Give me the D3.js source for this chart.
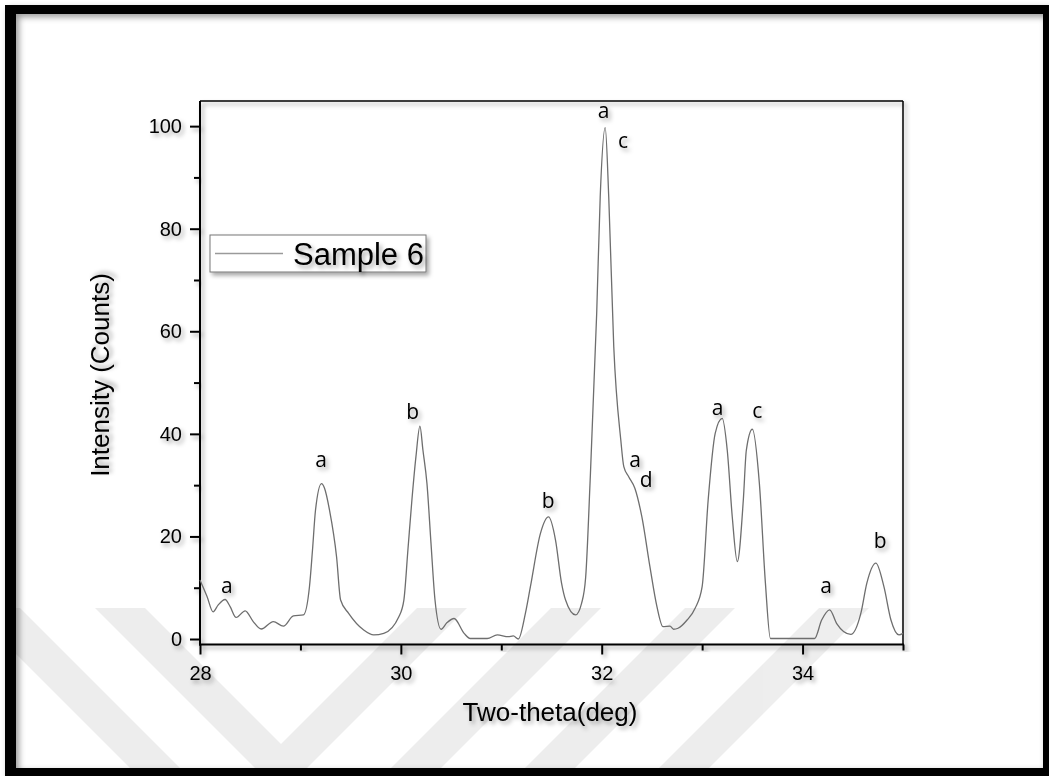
<!DOCTYPE html>
<html>
<head>
<meta charset="utf-8">
<script src="https://cdn.jsdelivr.net/npm/d3@7"></script>
<style>
  body { margin: 0; background: #fff; }
  svg { display: block; }
</style>
</head>
<body>
<div id="container"></div>
<script>
// XRD pattern, sample 6
var twoTheta = [28.00, 28.07, 28.13, 28.18, 28.25, 28.30, 28.36, 28.45, 28.53, 28.61, 28.73, 28.83, 28.93, 29.03,
  29.09, 29.12, 29.15, 29.21, 29.24, 29.29, 29.36, 29.40, 29.48, 29.63, 29.73, 29.83, 29.98,
  30.03, 30.07, 30.11, 30.15, 30.19, 30.22, 30.26, 30.30, 30.34, 30.40, 30.46, 30.53, 30.63, 30.69, 30.86,
  30.96, 31.07, 31.12, 31.17, 31.24, 31.29, 31.39, 31.47, 31.54, 31.60, 31.64, 31.74, 31.80,
  31.84, 31.885, 31.95, 31.985, 32.035, 32.07, 32.12, 32.19, 32.22, 32.27, 32.33, 32.40, 32.48,
  32.55, 32.61, 32.68, 32.715, 32.76, 32.85, 32.93, 33.00, 33.06, 33.13, 33.20, 33.25, 33.30, 33.35,
  33.41, 33.44, 33.50, 33.57, 33.63, 33.68, 34.12, 34.19, 34.27, 34.34, 34.48, 34.58, 34.64, 34.73,
  34.81, 34.88, 34.96, 35.00];
var intensity = [11.5, 8.3, 5.3, 6.6, 7.7, 6.3, 4.2, 5.5, 3.4, 1.95, 3.4, 2.5, 4.5, 4.7,
  10.2, 17.3, 25.1, 30.3, 29.4, 25.1, 16.0, 7.6, 5.0, 1.75, 0.8, 1.1, 4.35,
  7.6, 17.3, 27.1, 35.5, 41.5, 36.8, 30.3, 18.7, 7.6, 1.9, 3.2, 4.0, 1.1, 0.1, 0.1,
  0.8, 0.45, 0.6, 0.0, 5.0, 10.2, 20.6, 23.8, 19.3, 10.9, 7.6, 4.7, 7.0,
  12.0, 31.0, 63.5, 86.2, 99.7, 86.2, 57.0, 38.8, 33.6, 31.6, 29.4, 23.8, 14.1,
  6.3, 2.4, 2.5, 1.9, 2.1, 3.7, 6.0, 10.2, 27.1, 40.1, 43.0, 36.8, 23.8, 15.1,
  27.1, 36.8, 40.9, 30.3, 10.9, 0.1, 0.1, 3.7, 5.7, 3.0, 0.9, 5.0, 10.9, 14.8,
  10.2, 3.7, 0.8, 1.1];

// phase labels: letter, two-theta, counts (baseline of the letter)
var peakLetters = ["a", "c", "a", "d", "a", "c", "a", "b", "a", "a", "b", "b"];
var peakX = [32.019, 32.213, 32.333, 32.442, 33.154, 33.548, 34.235, 34.773, 28.266, 29.205, 30.117, 31.466];
var peakY = [101.6, 95.7, 33.5, 29.6, 43.7, 43.1, 9.0, 17.7, 9.0, 33.5, 42.9, 25.5];

var yMajor = [0, 20, 40, 60, 80, 100];
var yMinor = [10, 30, 50, 70, 90];
var xMajor = [28, 30, 32, 34];
var xMinor = [29, 31, 33, 35];

var seriesName = "Sample 6";

(function() {
  var W = 1049, H = 776;
  var pl = 200, pr = 903, pt = 101, pb = 644.5;

  var svg = d3.select('#container').append('svg')
    .attr('width', W).attr('height', H);

  var defs = svg.append('defs');
  defs.append('filter').attr('id', 'shadow')
    .attr('x', '-20%').attr('y', '-20%').attr('width', '140%').attr('height', '140%')
    .append('feDropShadow')
    .attr('dx', 2.5).attr('dy', 3).attr('stdDeviation', 2)
    .attr('flood-color', '#000').attr('flood-opacity', 0.35);
  defs.append('filter').attr('id', 'bshadow')
    .attr('x', '-5%').attr('y', '-5%').attr('width', '110%').attr('height', '110%')
    .append('feDropShadow')
    .attr('dx', 3).attr('dy', 3).attr('stdDeviation', 3)
    .attr('flood-color', '#000').attr('flood-opacity', 0.4);

  var x = d3.scaleLinear().domain([28, 35]).range([pl, pr]);
  var y = d3.scaleLinear().domain([-1.07, 104.9]).range([pb, pt]);

  // faint watermark stripes at the bottom
  var wmTop = 608, wmBottom = 768, wmW = 50;
  var backStripes = [-30, 95];
  var fwdStripes = [417, 551, 685, 819];
  defs.append('clipPath').attr('id', 'inner')
    .append('rect').attr('x', 16).attr('y', 14).attr('width', 1027).attr('height', 754);
  var wm = svg.append('g').attr('clip-path', 'url(#inner)').attr('opacity', 0.065);
  var h = wmBottom - wmTop;
  wm.selectAll('polygon.back').data(backStripes).enter().append('polygon')
    .attr('points', function(d) {
      return [[d, wmTop], [d + wmW, wmTop], [d + wmW + h, wmBottom], [d + h, wmBottom]].join(' ');
    })
    .attr('fill', '#000');
  wm.selectAll('polygon.fwd').data(fwdStripes).enter().append('polygon')
    .attr('points', function(d) {
      return [[d, wmTop], [d + wmW, wmTop], [d + wmW - h, wmBottom], [d - h, wmBottom]].join(' ');
    })
    .attr('fill', '#000');

  // outer black frame
  var border = svg.append('g').attr('filter', 'url(#bshadow)');
  border.append('rect').attr('x', 5).attr('y', 5).attr('width', 1044).attr('height', 9).attr('fill', '#000');
  border.append('rect').attr('x', 5).attr('y', 5).attr('width', 11).attr('height', 771).attr('fill', '#000');
  border.append('rect').attr('x', 1043).attr('y', 5).attr('width', 6).attr('height', 771).attr('fill', '#000');
  border.append('rect').attr('x', 5).attr('y', 768).attr('width', 1044).attr('height', 8).attr('fill', '#000');

  // plot frame
  var frame = svg.append('g').attr('filter', 'url(#shadow)');
  frame.append('line').attr('x1', pl).attr('x2', pr).attr('y1', pt).attr('y2', pt)
    .attr('stroke', '#000').attr('stroke-width', 1.5);
  frame.append('line').attr('x1', pr).attr('x2', pr).attr('y1', pt).attr('y2', pb)
    .attr('stroke', '#000').attr('stroke-width', 1.5);
  frame.append('line').attr('x1', pl).attr('x2', pl).attr('y1', pt).attr('y2', pb + 1)
    .attr('stroke', '#000').attr('stroke-width', 2);
  frame.append('line').attr('x1', pl - 1).attr('x2', pr + 1).attr('y1', pb).attr('y2', pb)
    .attr('stroke', '#000').attr('stroke-width', 2);

  function styleAxis(g) {
    g.attr('font-family', 'Liberation Sans, Arial, sans-serif').attr('font-size', 20);
    g.select('.domain').remove();
    g.selectAll('.tick line').attr('stroke', '#000').attr('stroke-width', 2);
    g.selectAll('.tick text').attr('fill', '#000');
  }

  var yAx = svg.append('g').attr('transform', 'translate(' + pl + ',0)').attr('filter', 'url(#shadow)')
    .call(d3.axisLeft(y).tickValues(yMajor).tickSize(10).tickPadding(8).tickFormat(d3.format('d')));
  styleAxis(yAx);
  var yMin = svg.append('g').attr('transform', 'translate(' + pl + ',0)').attr('filter', 'url(#shadow)')
    .call(d3.axisLeft(y).tickValues(yMinor).tickSize(6).tickFormat(''));
  styleAxis(yMin);

  var xAx = svg.append('g').attr('transform', 'translate(0,' + pb + ')').attr('filter', 'url(#shadow)')
    .call(d3.axisBottom(x).tickValues(xMajor).tickSize(10).tickPadding(11).tickFormat(d3.format('d')));
  styleAxis(xAx);
  var xMin = svg.append('g').attr('transform', 'translate(0,' + pb + ')').attr('filter', 'url(#shadow)')
    .call(d3.axisBottom(x).tickValues(xMinor).tickSize(6).tickFormat(''));
  styleAxis(xMin);

  // axis titles
  svg.append('text')
    .attr('x', 550).attr('y', 721)
    .attr('text-anchor', 'middle')
    .attr('font-family', 'Liberation Sans, Arial, sans-serif').attr('font-size', 26)
    .attr('filter', 'url(#shadow)')
    .text('Two-theta(deg)');
  svg.append('text')
    .attr('transform', 'translate(109,375) rotate(-90)')
    .attr('text-anchor', 'middle')
    .attr('font-family', 'Liberation Sans, Arial, sans-serif').attr('font-size', 26)
    .attr('filter', 'url(#shadow)')
    .text('Intensity (Counts)');

  // data curve
  var pts = twoTheta.map(function(d, i) { return [d, intensity[i]]; });
  var line = d3.line()
    .x(function(d) { return x(d[0]); })
    .y(function(d) { return y(d[1]); })
    .curve(d3.curveMonotoneX);
  svg.append('path')
    .datum(pts)
    .attr('d', line)
    .attr('fill', 'none')
    .attr('stroke', '#6e6e6e')
    .attr('stroke-width', 1.3);

  // peak letters
  svg.append('g').attr('filter', 'url(#shadow)')
    .selectAll('text')
    .data(peakLetters)
    .enter().append('text')
    .attr('x', function(d, i) { return x(peakX[i]); })
    .attr('y', function(d, i) { return y(peakY[i]); })
    .attr('text-anchor', 'middle')
    .attr('font-family', 'Open Sans, sans-serif').attr('font-size', 21)
    .text(function(d) { return d; });

  // legend
  var lg = svg.append('g');
  lg.append('rect')
    .attr('x', 210).attr('y', 235).attr('width', 216).attr('height', 37)
    .attr('fill', '#fff').attr('stroke', '#777').attr('stroke-width', 1)
    .attr('filter', 'url(#shadow)');
  lg.append('line')
    .attr('x1', 215).attr('x2', 283).attr('y1', 253.5).attr('y2', 253.5)
    .attr('stroke', '#9a9a9a').attr('stroke-width', 1.3);
  lg.append('text')
    .attr('x', 293).attr('y', 265)
    .attr('font-family', 'Liberation Sans, Arial, sans-serif').attr('font-size', 31)
    .attr('filter', 'url(#shadow)')
    .text(seriesName);
})();
</script>
</body>
</html>
